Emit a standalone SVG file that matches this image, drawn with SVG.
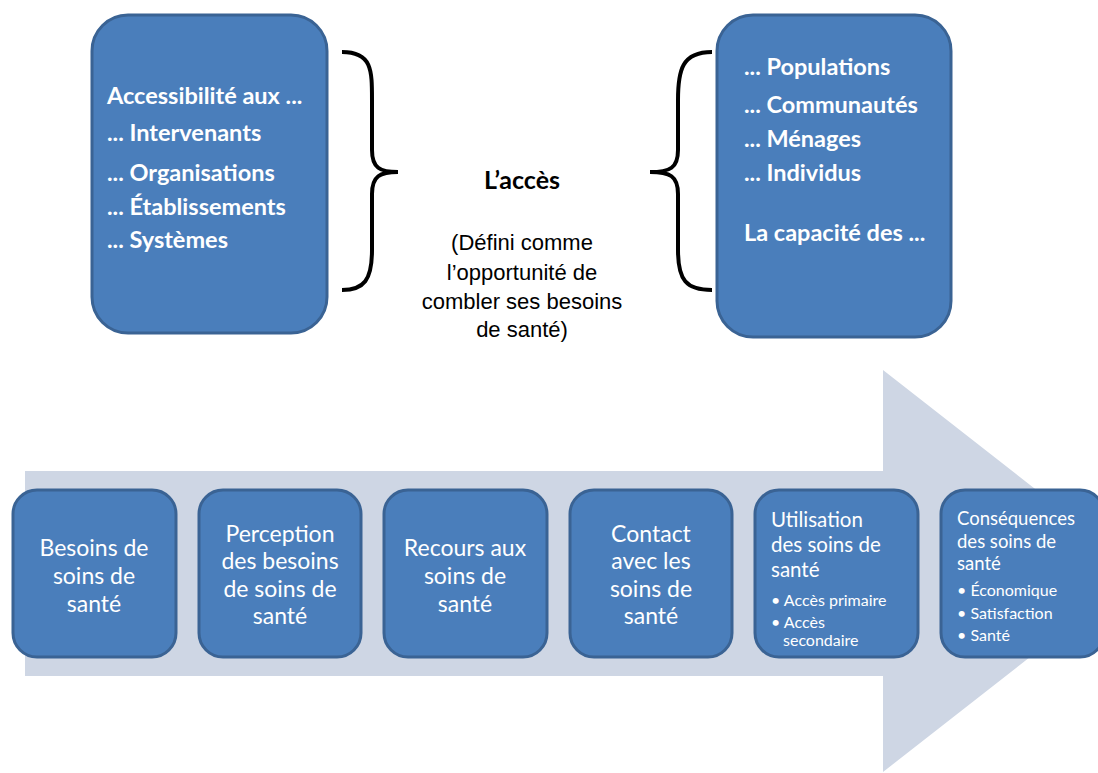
<svg xmlns="http://www.w3.org/2000/svg" width="1098" height="773" viewBox="0 0 1098 773">
<defs>
<style>
.box{fill:#4a7ebb;stroke:#3a6394;stroke-width:3}
.tb{font-family:Lato,"Open Sans",sans-serif;font-weight:bold;font-size:23.5px;fill:#fff}
.tn{font-family:Lato,"Open Sans",sans-serif;font-size:23px;fill:#fff;text-anchor:middle}
.ts{font-family:Lato,"Open Sans",sans-serif;font-size:20.5px;fill:#fff}
.tm{font-family:Lato,"Open Sans",sans-serif;font-size:18.5px;fill:#fff}
.tx{font-family:Lato,"Open Sans",sans-serif;font-size:16px;fill:#fff}
.brace{fill:none;stroke:#000;stroke-width:4}
.blk{font-family:"Liberation Sans",Arial,sans-serif;font-size:22px;fill:#000;text-anchor:middle}
</style>
</defs>
<rect width="1098" height="773" fill="#fff"/>
<g id="arrow">
<polygon points="25,471 883,471 883,370 1140,571 883,772 883,676 25,676" fill="#ced6e4"/>
</g>
<g id="box-accessibilite">
<rect class="box" x="92" y="15" width="235" height="318" rx="36"/>
<text class="tb" x="107" y="104">Accessibilité aux ...</text>
<text class="tb" x="107" y="141">... Intervenants</text>
<text class="tb" x="107" y="181">... Organisations</text>
<text class="tb" x="107" y="215">... Établissements</text>
<text class="tb" x="107" y="248">... Systèmes</text>
</g>
<g id="box-capacite">
<rect class="box" x="717" y="15" width="234" height="322" rx="36"/>
<text class="tb" x="744" y="75">... Populations</text>
<text class="tb" x="744" y="113">... Communautés</text>
<text class="tb" x="744" y="147">... Ménages</text>
<text class="tb" x="744" y="181">... Individus</text>
<text class="tb" x="744" y="241">La capacité des ...</text>
</g>
<g id="connectors">
<path class="brace" d="M342,52 C372,52 372,70 372,100 L372,150 C372,168 380,172 398,172 C380,172 372,176 372,194 L372,250 C372,280 364,290 342,290"/>
<path class="brace" d="M712,52 C682,52 678,70 678,100 L678,150 C678,168 670,172 650,172 C670,172 678,176 678,194 L678,250 C678,280 686,290 712,290"/>
</g>
<g id="acces">
<text x="522" y="189" font-family="Lato,'Open Sans',sans-serif" font-weight="bold" font-size="25" fill="#000" text-anchor="middle">L’accès</text>
<text class="blk" x="522" y="250">(Défini comme</text>
<text class="blk" x="522" y="280">l’opportunité de</text>
<text class="blk" x="522" y="309">combler ses besoins</text>
<text class="blk" x="522" y="337">de santé)</text>
</g>
<g id="b1">
<rect class="box" x="13" y="490" width="163" height="167" rx="24"/>
<text class="tn" x="94" y="556">Besoins de</text>
<text class="tn" x="94" y="584">soins de</text>
<text class="tn" x="94" y="612">santé</text>
</g>
<g id="b2">
<rect class="box" x="199" y="490" width="162" height="167" rx="24"/>
<text class="tn" x="280" y="542">Perception</text>
<text class="tn" x="280" y="569">des besoins</text>
<text class="tn" x="280" y="597">de soins de</text>
<text class="tn" x="280" y="624">santé</text>
</g>
<g id="b3">
<rect class="box" x="384" y="490" width="163" height="167" rx="24"/>
<text class="tn" x="465" y="556">Recours aux</text>
<text class="tn" x="465" y="584">soins de</text>
<text class="tn" x="465" y="612">santé</text>
</g>
<g id="b4">
<rect class="box" x="570" y="490" width="162" height="167" rx="24"/>
<text class="tn" x="651" y="542">Contact</text>
<text class="tn" x="651" y="569">avec les</text>
<text class="tn" x="651" y="597">soins de</text>
<text class="tn" x="651" y="624">santé</text>
</g>
<g id="b5">
<rect class="box" x="755" y="490" width="163" height="167" rx="24"/>
<text class="ts" x="771" y="527">Utilisation</text>
<text class="ts" x="771" y="552">des soins de</text>
<text class="ts" x="771" y="577">santé</text>
<text class="tx" x="771" y="606">• Accès primaire</text>
<text class="tx" x="771" y="628">• Accès</text>
<text class="tx" x="783" y="646">secondaire</text>
</g>
<g id="b6">
<rect class="box" x="941" y="490" width="163" height="167" rx="24"/>
<text class="tm" x="957" y="525">Conséquences</text>
<text class="tm" x="957" y="548">des soins de</text>
<text class="tm" x="957" y="570">santé</text>
<text class="tx" x="957" y="596">• Économique</text>
<text class="tx" x="957" y="619">• Satisfaction</text>
<text class="tx" x="957" y="641">• Santé</text>
</g>
</svg>
